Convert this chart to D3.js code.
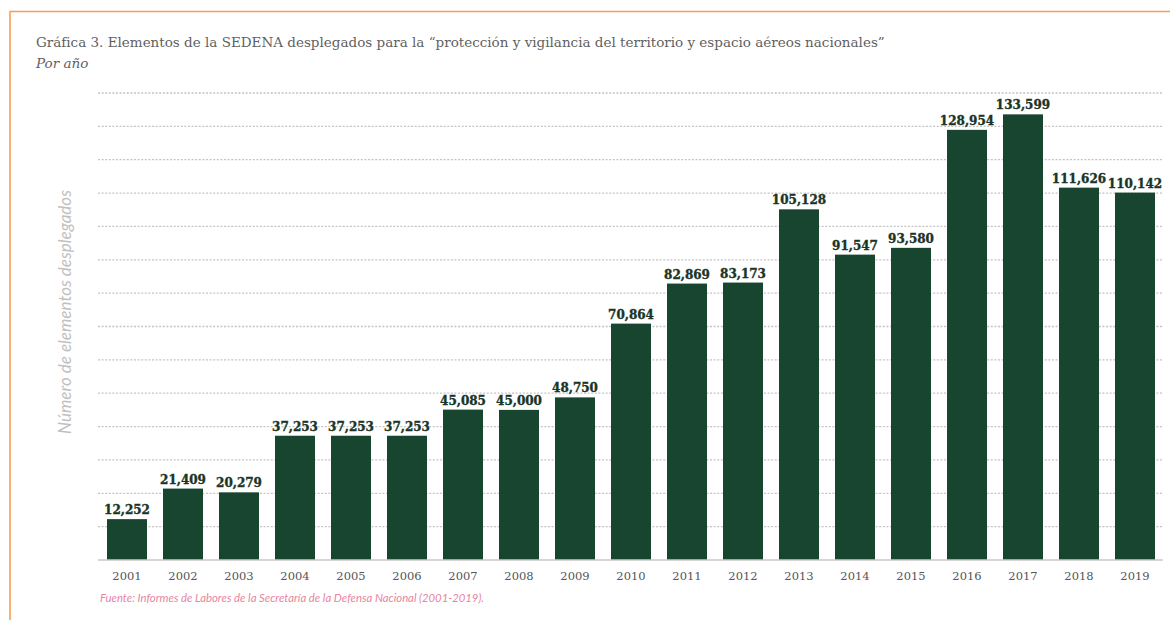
<!DOCTYPE html>
<html lang="es">
<head>
	<meta charset="utf-8">
	<title>Gráfica 3. Elementos de la SEDENA</title>
	<script src="https://d3js.org/d3.v7.min.js" charset="utf-8"></script>
	<style>
		body { margin: 0; background: #fff; }
	</style>
</head>
<body>
	<script>
		// datos
		var years = ["2001", "2002", "2003", "2004", "2005", "2006", "2007", "2008", "2009", "2010",
			"2011", "2012", "2013", "2014", "2015", "2016", "2017", "2018", "2019"];
		var elementos = [12252, 21409, 20279, 37253, 37253, 37253, 45085, 45000, 48750, 70864,
			82869, 83173, 105128, 91547, 93580, 128954, 133599, 111626, 110142];
		var gridTicks = d3.range(10000, 140001, 10000);

		var w = 1170;
		var h = 620;

		var svg = d3.select("body")
			.append("svg")
			.attr("width", w)
			.attr("height", h);

		// marco naranja (solo arriba e izquierda)
		svg.append("path")
			.attr("d", "M10,620 L10,11.5 L1170,11.5")
			.attr("fill", "none")
			.attr("stroke", "#f5a04e")
			.attr("stroke-width", 1.6);

		var xScale = d3.scaleBand()
			.domain(years)
			.range([99, 1163])
			.paddingInner(0.286)
			.paddingOuter(0.143);

		var yScale = d3.scaleLinear()
			.domain([0, 140000])
			.range([560, 93]);

		// lineas punteadas
		svg.append("g")
			.selectAll("line")
			.data(gridTicks)
			.enter()
			.append("line")
			.attr("x1", 98)
			.attr("x2", 1163)
			.attr("y1", function(d) { return yScale(d); })
			.attr("y2", function(d) { return yScale(d); })
			.attr("stroke", "#c4c4c4")
			.attr("stroke-width", 1.3)
			.attr("stroke-dasharray", "2,1.6");

		// barras
		svg.append("g")
			.selectAll("rect")
			.data(elementos)
			.enter()
			.append("rect")
			.attr("x", function(d, i) { return xScale(years[i]); })
			.attr("y", function(d) { return yScale(d); })
			.attr("width", xScale.bandwidth())
			.attr("height", function(d) { return yScale(0) - yScale(d); })
			.attr("fill", "#17452f");

		// etiquetas de valor
		svg.append("g")
			.selectAll("text")
			.data(elementos)
			.enter()
			.append("text")
			.attr("x", function(d, i) { return xScale(years[i]) + xScale.bandwidth() / 2; })
			.attr("y", function(d) { return yScale(d) - 5; })
			.attr("text-anchor", "middle")
			.style("font-family", "'DejaVu Serif', serif")
			.style("font-weight", "bold")
			.style("font-size", "12px")
			.attr("fill", "#1a3527")
			.attr("stroke", "#1a3527")
			.attr("stroke-width", 0.35)
			.text(function(d) { return d3.format(",")(d); });

		// eje x
		var xAxis = svg.append("g")
			.attr("transform", "translate(0,560)")
			.call(d3.axisBottom(xScale).tickSize(0).tickPadding(12));
		xAxis.select(".domain")
			.attr("d", "M98,0H1163")
			.attr("stroke", "#c8c8c8")
			.attr("stroke-width", 1.5);
		xAxis.selectAll("text")
			.style("font-family", "'DejaVu Serif', serif")
			.style("font-size", "11.5px")
			.attr("fill", "#555");

		// titulo
		svg.append("text")
			.attr("x", 36)
			.attr("y", 47)
			.style("font-family", "'DejaVu Serif', serif")
			.style("font-size", "13.5px")
			.attr("fill", "#5f5f5f")
			.text("Gráfica 3. Elementos de la SEDENA desplegados para la “protección y vigilancia del territorio y espacio aéreos nacionales”");

		svg.append("text")
			.attr("x", 36)
			.attr("y", 68)
			.style("font-family", "'DejaVu Serif', serif")
			.style("font-style", "italic")
			.style("font-size", "13.5px")
			.attr("fill", "#5f5f5f")
			.text("Por año");

		// titulo eje y
		svg.append("text")
			.attr("transform", "translate(71,312) rotate(-90)")
			.attr("text-anchor", "middle")
			.style("font-family", "Lato, sans-serif")
			.style("font-style", "italic")
			.style("font-size", "17px")
			.attr("fill", "#c0c0c0")
			.text("Número de elementos desplegados");

		// fuente
		svg.append("text")
			.attr("x", 100)
			.attr("y", 602)
			.style("font-family", "Lato, sans-serif")
			.style("font-style", "italic")
			.style("font-size", "11.3px")
			.attr("fill", "#e8849f")
			.text("Fuente: Informes de Labores de la Secretaría de la Defensa Nacional (2001-2019).");
	</script>
</body>
</html>
